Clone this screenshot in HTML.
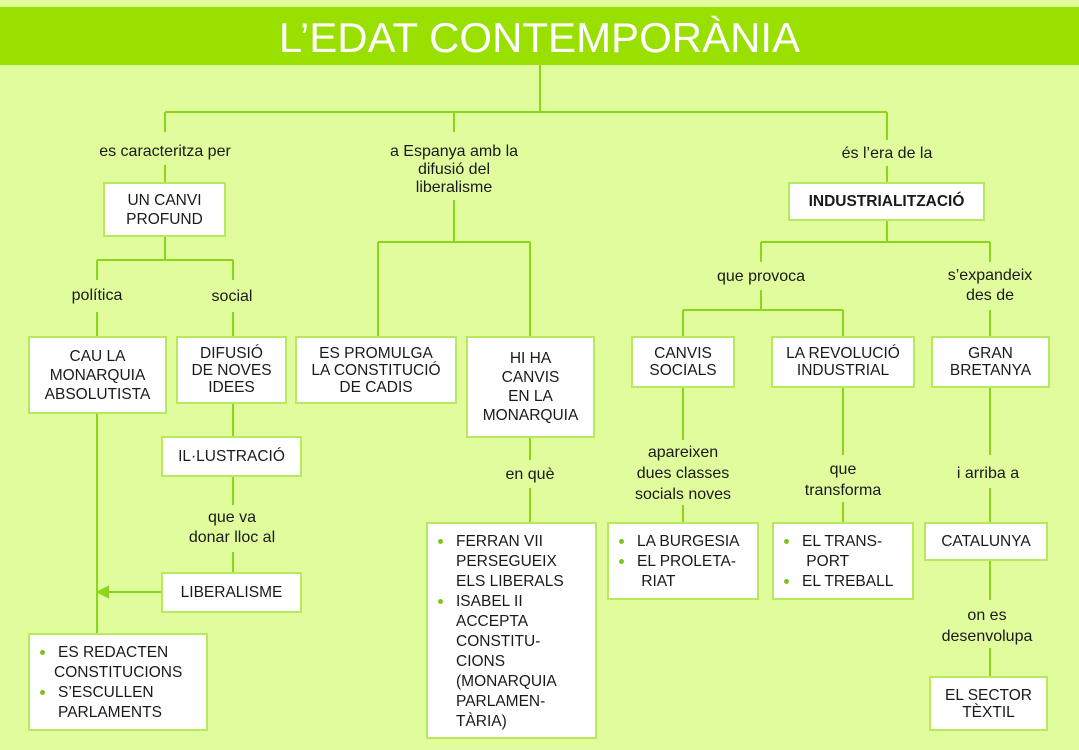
<!DOCTYPE html>
<html><head><meta charset="utf-8"><style>
body{margin:0;width:1079px;height:750px;background:#e0fc9c;position:relative;overflow:hidden;font-family:"Liberation Sans",sans-serif;color:#1a1a1a}
.hd{position:absolute;left:0;top:7px;width:1079px;height:58px;background:#99e000;color:#fff;font-size:42px;text-align:center;line-height:62px}
.b{position:absolute;background:#fff;border:2px solid #b6ea5c;box-sizing:border-box;display:flex;align-items:center;justify-content:center;text-align:center;font-size:15.5px;line-height:19px}
.l{position:absolute;transform:translateX(-50%);text-align:center;font-size:16px;line-height:21px;white-space:nowrap}
.ul{position:absolute;background:#fff;border:2px solid #b6ea5c;box-sizing:border-box;font-size:15.5px;line-height:20px;padding:8px 0 0 10px}
.ul div{position:relative;padding-left:18px}
.ul div.bl::before{content:"";position:absolute;left:0;top:7px;width:5px;height:5px;border-radius:50%;background:#7cc520}
svg{position:absolute;left:0;top:0}
</style></head><body>
<div class="hd">L’EDAT CONTEMPORÀNIA</div>
<svg width="1079" height="750" stroke="#8cd61a" stroke-width="2" fill="none">
<path d="M540 65V112M165 112H887M165 112V132M454 112V132M887 112V140"/>
<path d="M165 165V182M165 236V260M97 260H233M97 260V280M233 260V280M97 312V336M233 312V336"/>
<path d="M233 403V436M233 476V505M233 552V572M97 413V633M161 592H102"/>
<path d="M454 200V242M378 242H530M378 242V336M530 242V336M530 437V460M530 488V522"/>
<path d="M887 166V182M887 220V242M761 242H990M761 242V262M990 242V262M761 290V310M683 310H843M683 310V336M843 310V336M990 310V336"/>
<path d="M683 387V440M683 505V522M843 387V455M843 502V522M990 387V455M990 488V522M990 560V600M990 648V676"/>
<path d="M98 592L108 587V597Z" fill="#8cd61a"/>
</svg>
<div class="l" style="left:165px;top:141px">es caracteritza per</div>
<div class="l" style="left:454px;top:143px;line-height:18px">a Espanya amb la<br>difusió del<br>liberalisme</div>
<div class="l" style="left:887px;top:143px">és l’era de la</div>
<div class="b" style="left:103px;top:182px;width:123px;height:55px">UN CANVI<br>PROFUND</div>
<div class="b" style="left:788px;top:182px;width:197px;height:39px;font-weight:bold">INDUSTRIALITZACIÓ</div>
<div class="l" style="left:97px;top:285px">política</div>
<div class="l" style="left:232px;top:286px">social</div>
<div class="l" style="left:761px;top:266px">que provoca</div>
<div class="l" style="left:990px;top:266px;line-height:20px">s’expandeix<br>des de</div>
<div class="b" style="left:28px;top:336px;width:139px;height:78px">CAU LA<br>MONARQUIA<br>ABSOLUTISTA</div>
<div class="b" style="left:176px;top:336px;width:111px;height:68px;line-height:17px">DIFUSIÓ<br>DE NOVES<br>IDEES</div>
<div class="b" style="left:295px;top:336px;width:162px;height:68px;line-height:17px">ES PROMULGA<br>LA CONSTITUCIÓ<br>DE CADIS</div>
<div class="b" style="left:466px;top:336px;width:129px;height:102px">HI HA<br>CANVIS<br>EN LA<br>MONARQUIA</div>
<div class="b" style="left:631px;top:336px;width:104px;height:52px;line-height:17px">CANVIS<br>SOCIALS</div>
<div class="b" style="left:771px;top:336px;width:144px;height:52px;line-height:17px">LA REVOLUCIÓ<br>INDUSTRIAL</div>
<div class="b" style="left:931px;top:336px;width:119px;height:52px;line-height:17px">GRAN<br>BRETANYA</div>
<div class="b" style="left:161px;top:436px;width:141px;height:41px">IL·LUSTRACIÓ</div>
<div class="l" style="left:232px;top:508px;line-height:20px">que va<br>donar lloc al</div>
<div class="b" style="left:161px;top:572px;width:141px;height:41px">LIBERALISME</div>
<div class="l" style="left:530px;top:464px">en què</div>
<div class="l" style="left:683px;top:442px;line-height:21px">apareixen<br>dues classes<br>socials noves</div>
<div class="l" style="left:843px;top:459px;line-height:21px">que<br>transforma</div>
<div class="l" style="left:988px;top:463px">i arriba a</div>
<div class="ul" style="left:28px;top:633px;width:180px;height:98px"><div class="bl">ES REDACTEN</div><div style="padding-left:14px">CONSTITUCIONS</div><div class="bl">S’ESCULLEN</div><div>PARLAMENTS</div></div>
<div class="ul" style="left:426px;top:522px;width:171px;height:217px"><div class="bl">FERRAN VII</div><div>PERSEGUEIX</div><div>ELS LIBERALS</div><div class="bl">ISABEL II</div><div>ACCEPTA</div><div>CONSTITU-</div><div>CIONS</div><div>(MONARQUIA</div><div>PARLAMEN-</div><div>TÀRIA)</div></div>
<div class="ul" style="left:607px;top:522px;width:152px;height:78px"><div class="bl">LA BURGESIA</div><div class="bl">EL PROLETA-</div><div>&nbsp;RIAT</div></div>
<div class="ul" style="left:772px;top:522px;width:142px;height:78px"><div class="bl">EL TRANS-</div><div>&nbsp;PORT</div><div class="bl">EL TREBALL</div></div>
<div class="b" style="left:924px;top:522px;width:124px;height:39px">CATALUNYA</div>
<div class="l" style="left:987px;top:605px;line-height:21px">on es<br>desenvolupa</div>
<div class="b" style="left:929px;top:676px;width:119px;height:55px;line-height:17px">EL SECTOR<br>TÈXTIL</div>
</body></html>
